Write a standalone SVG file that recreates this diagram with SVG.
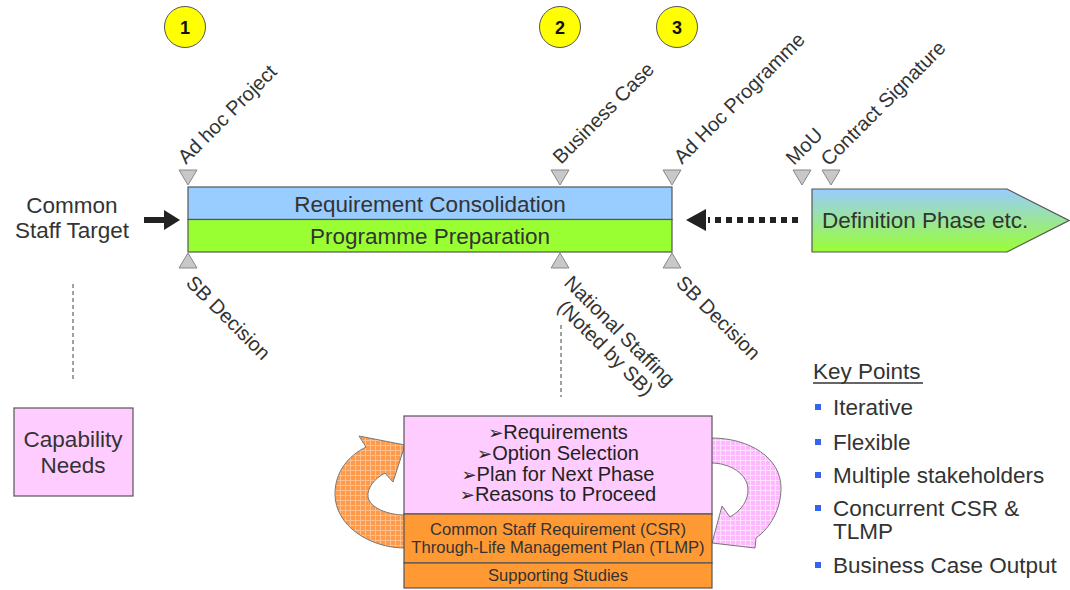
<svg xmlns="http://www.w3.org/2000/svg" width="1070" height="590" viewBox="0 0 1070 590">
<style>
text{font-family:"Liberation Sans",Arial,sans-serif;fill:#333}
.big{font-size:22.5px}
.lab{font-size:20px}
.mid{text-anchor:middle}
.num{font-size:18px;font-weight:bold;text-anchor:middle;fill:#111}
.circ{fill:#FFFF00;stroke:#555;stroke-width:1}
.tri{fill:#C8C8C8;stroke:#888;stroke-width:1}
.box{stroke:#555;stroke-width:1.2}
.dash{stroke:#444;stroke-width:1;stroke-dasharray:4 3;fill:none}
.bul{fill:#3366EE}
.sm{font-size:16.6px;text-anchor:middle}
.lst{font-size:20px;text-anchor:middle;fill:#222}
.arr{font-family:"DejaVu Sans",sans-serif;font-size:18px}
</style>
<defs>
<linearGradient id="defgrad" x1="0" y1="0" x2="0" y2="1">
<stop offset="0" stop-color="#99CCFF"/>
<stop offset="1" stop-color="#99FF33"/>
</linearGradient>
<pattern id="orgrid" width="5" height="5" patternUnits="userSpaceOnUse">
<rect width="5" height="5" fill="#FF9A4A"/>
<path d="M0 0.5H5M0.5 0V5" stroke="#FFC090" stroke-width="1"/>
</pattern>
<pattern id="pkgrid" width="5" height="5" patternUnits="userSpaceOnUse">
<rect width="5" height="5" fill="#FFB8FF"/>
<path d="M0 0.5H5M0.5 0V5" stroke="#FFE0FF" stroke-width="1"/>
</pattern>
</defs>

<g id="milestone-numbers">
<g id="num1"><circle class="circ" cx="185" cy="27" r="20.5"/><text class="num" x="185" y="34">1</text></g>
<g id="num2"><circle class="circ" cx="560" cy="27" r="20.5"/><text class="num" x="560" y="34">2</text></g>
<g id="num3"><circle class="circ" cx="677" cy="27" r="20.5"/><text class="num" x="677" y="34">3</text></g>
</g>

<g id="top-milestones">
<polygon class="tri" points="179,170 197,170 188,185"/>
<polygon class="tri" points="551,170 569,170 560,185"/>
<polygon class="tri" points="663,170 681,170 672,185"/>
<polygon class="tri" points="793,170 811,170 802,185"/>
<polygon class="tri" points="822,170 840,170 831,185"/>
<text class="lab" transform="translate(186,165) rotate(-45)">Ad hoc Project</text>
<text class="lab" transform="translate(561,165) rotate(-45)">Business Case</text>
<text class="lab" transform="translate(682,165) rotate(-45)">Ad Hoc Programme</text>
<text class="lab" transform="translate(794,166) rotate(-45)">MoU</text>
<text class="lab" transform="translate(829,167) rotate(-45)">Contract Signature</text>
</g>

<g id="bottom-milestones">
<polygon class="tri" points="179,268 197,268 188,253"/>
<polygon class="tri" points="551,268 569,268 560,253"/>
<polygon class="tri" points="663,268 681,268 672,253"/>
<text class="lab" transform="translate(185,284) rotate(45)">SB Decision</text>
<text class="lab" transform="translate(563,284) rotate(45)"><tspan x="0" y="0">National Staffing</tspan><tspan x="12.6" y="22">(Noted by SB)</tspan></text>
<text class="lab" transform="translate(675,284) rotate(45)">SB Decision</text>
</g>

<g id="common-staff-target">
<text class="big mid" x="72" y="213">Common</text>
<text class="big mid" x="72" y="238">Staff Target</text>
</g>

<g id="main-bar">
<rect class="box" x="188" y="187" width="484" height="32.5" fill="#99CCFF"/>
<rect class="box" x="188" y="219.5" width="484" height="32.5" fill="#99FF33"/>
<text class="big mid" x="430" y="212">Requirement Consolidation</text>
<text class="big mid" x="430" y="244">Programme Preparation</text>
</g>

<g id="definition-phase">
<polygon class="box" points="812,189 1007,189 1069,220.5 1007,252 812,252" fill="url(#defgrad)" stroke="#666"/>
<text class="big" x="822" y="228">Definition Phase etc.</text>
</g>

<g id="capability-needs">
<rect class="box" x="14" y="408" width="119" height="88" fill="#FFCCFF"/>
<text class="big mid" x="73" y="447">Capability</text>
<text class="big mid" x="73" y="473">Needs</text>
</g>

<g id="iteration-arrows">
<path d="M405,548 C370,548 335,526 335,494 C335,472 348,456 366,447 L359,436 L405,445 L393,482 L385,473 C374,479 367,488 368,497 C370,508 388,515 405,515 Z" fill="url(#orgrid)" stroke="#777" stroke-width="1"/>
<path d="M711,438 C750,438 781,458 781,488 C781,510 770,528 756,538 L755,548 L712,543 L722,506 L730,517 C742,510 748,500 748,490 C748,474 730,463 711,463 Z" fill="url(#pkgrid)" stroke="#777" stroke-width="1"/>
</g>

<g id="outputs-box">
<rect class="box" x="404" y="416" width="308" height="98" fill="#FFCCFF"/>
<rect class="box" x="404" y="514" width="308" height="49" fill="#FF9933"/>
<rect class="box" x="404" y="563" width="308" height="25" fill="#FF9933"/>
<text class="lst" x="558" y="439"><tspan class="arr">➢</tspan>Requirements</text>
<text class="lst" x="558" y="460"><tspan class="arr">➢</tspan>Option Selection</text>
<text class="lst" x="558" y="481"><tspan class="arr">➢</tspan>Plan for Next Phase</text>
<text class="lst" x="558" y="501"><tspan class="arr">➢</tspan>Reasons to Proceed</text>
<text class="sm" x="558" y="535">Common Staff Requirement (CSR)</text>
<text class="sm" x="558" y="553">Through-Life Management Plan (TLMP)</text>
<text class="sm" x="558" y="581">Supporting Studies</text>
</g>

<g id="key-points">
<text class="big" x="813" y="379">Key Points</text>
<line x1="813" y1="383" x2="923" y2="383" stroke="#333" stroke-width="1.5"/>
<rect class="bul" x="815" y="404" width="6" height="6"/>
<text class="big" x="833" y="415">Iterative</text>
<rect class="bul" x="815" y="439" width="6" height="6"/>
<text class="big" x="833" y="450">Flexible</text>
<rect class="bul" x="815" y="472" width="6" height="6"/>
<text class="big" x="833" y="483">Multiple stakeholders</text>
<rect class="bul" x="815" y="505" width="6" height="6"/>
<text class="big" x="833" y="516">Concurrent CSR &amp;</text>
<text class="big" x="833" y="539">TLMP</text>
<rect class="bul" x="815" y="562" width="6" height="6"/>
<text class="big" x="833" y="573">Business Case Output</text>
</g>

<g id="connectors">
<line x1="144" y1="220" x2="166" y2="220" stroke="#222" stroke-width="6"/>
<polygon points="164,210 180,220 164,230" fill="#222"/>
<line x1="798" y1="220" x2="708" y2="220" stroke="#222" stroke-width="6" stroke-dasharray="6 5"/>
<polygon points="706,209 686,220 706,231" fill="#222"/>
<line class="dash" x1="73" y1="284" x2="73" y2="379"/>
<line class="dash" x1="561" y1="325" x2="561" y2="397"/>
</g>
</svg>
